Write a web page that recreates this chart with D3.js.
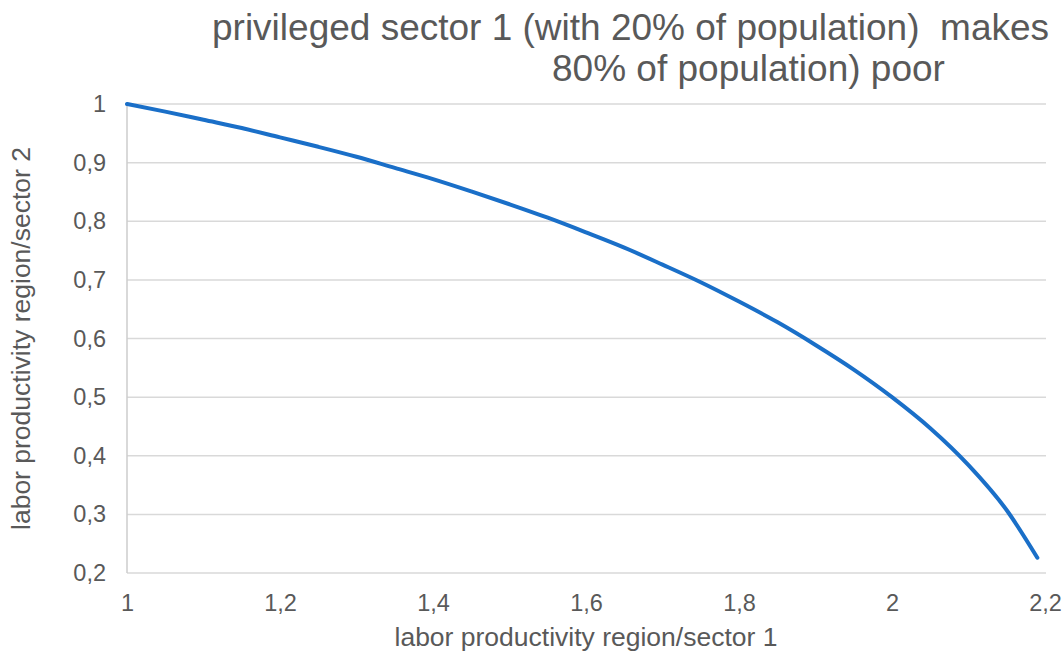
<!DOCTYPE html>
<html><head><meta charset="utf-8">
<script src="https://cdn.jsdelivr.net/npm/d3@7"></script>
<style>
html,body{margin:0;padding:0;background:#fff;}
text{font-family:"Liberation Sans",Arial,sans-serif;fill:#595959;}
</style></head>
<body><svg id="chart" width="1064" height="653"></svg>
<script>
const titleLines = ["privileged sector 1 (with 20% of population)  makes", "80% of population) poor"];
const xTitle = "labor productivity region/sector 1";
const yTitle = "labor productivity region/sector 2";
const xTicks = [1, 1.2, 1.4, 1.6, 1.8, 2, 2.2];
const yTicks = [0.2, 0.3, 0.4, 0.5, 0.6, 0.7, 0.8, 0.9, 1];
const xValues = [1.00,1.05,1.10,1.15,1.20,1.25,1.30,1.35,1.40,1.45,1.50,1.55,1.60,1.65,1.70,1.75,1.80,1.85,1.90,1.95,2.00,2.05,2.10,2.15,2.19];
const yValues = [1.000,0.987,0.973,0.959,0.943,0.927,0.910,0.891,0.872,0.851,0.829,0.806,0.781,0.755,0.726,0.696,0.663,0.628,0.589,0.547,0.500,0.447,0.384,0.307,0.226];

const svg = d3.select("#chart");
const m = {left:127, right:1045, top:104, bottom:573};
const x = d3.scaleLinear().domain([1, 2.2]).range([m.left, m.right]);
const y = d3.scaleLinear().domain([0.2, 1]).range([m.bottom, m.top]);
const fmt = v => String(+v.toFixed(1)).replace(".", ",");

// gridlines
svg.append("g").selectAll("line").data(yTicks).join("line")
  .attr("x1", m.left).attr("x2", m.right+1)
  .attr("y1", d => y(d)).attr("y2", d => y(d))
  .attr("stroke", "#d9d9d9").attr("stroke-width", 1.5);

// left axis line
svg.append("line").attr("x1", m.left).attr("x2", m.left)
  .attr("y1", m.top).attr("y2", m.bottom)
  .attr("stroke", "#cccccc").attr("stroke-width", 1.5);

// y axis
const yAxis = svg.append("g").attr("transform", `translate(${m.left},0)`)
  .call(d3.axisLeft(y).tickValues(yTicks).tickFormat(fmt).tickSize(0).tickPadding(21));
yAxis.select(".domain").remove();
yAxis.selectAll("text").style("font-size","23.5px").attr("fill","#595959");

// x axis
const xAxis = svg.append("g").attr("transform", `translate(0,${m.bottom})`)
  .call(d3.axisBottom(x).tickValues(xTicks).tickFormat(fmt).tickSize(0).tickPadding(21));
xAxis.select(".domain").remove();
xAxis.selectAll("text").style("font-size","23.5px").attr("fill","#595959");

// line
const pts = xValues.map((v,i) => [v, yValues[i]]);
svg.append("path").datum(pts)
  .attr("fill","none").attr("stroke","#1a6fc8").attr("stroke-width",4)
  .attr("stroke-linejoin","round").attr("stroke-linecap","round")
  .attr("d", d3.line().x(d => x(d[0])).y(d => y(d[1])).curve(d3.curveMonotoneX));

// titles
svg.append("text").attr("x", 212).attr("y", 40).attr("xml:space","preserve")
  .style("font-size","37px").text(titleLines[0]);
svg.append("text").attr("x", 552).attr("y", 81)
  .style("font-size","37px").text(titleLines[1]);

svg.append("text").attr("x", (395+777)/2).attr("y", 646).attr("text-anchor","middle")
  .style("font-size","26.5px").text(xTitle);
svg.append("text").attr("transform", `translate(30,${(m.top+m.bottom)/2}) rotate(-90)`)
  .attr("text-anchor","middle").style("font-size","26.5px").text(yTitle);
</script></body></html>
